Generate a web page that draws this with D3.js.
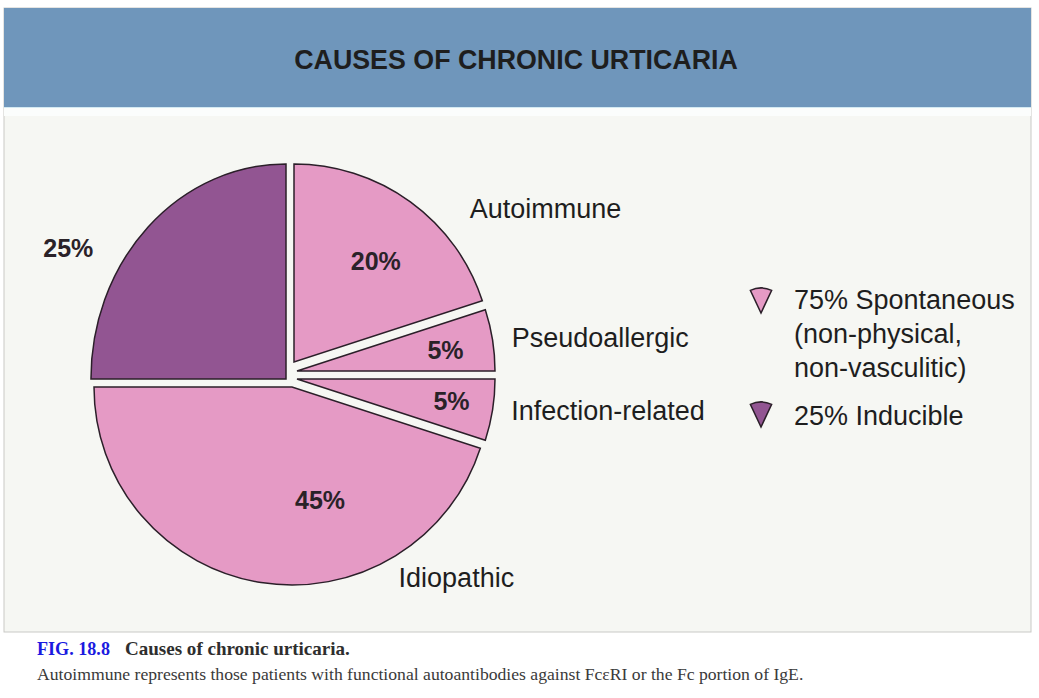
<!DOCTYPE html>
<html lang="en">
<head>
<meta charset="UTF-8">
<title>Causes of Chronic Urticaria</title>
<script src="https://d3js.org/d3.v7.min.js"></script>
<style>
    body { margin: 0; padding: 0; background: #ffffff; }
    svg { display: block; font-family: 'Liberation Sans', Arial, sans-serif; }
    .title { font-size: 26.8px; font-weight: bold; fill: #1e1e1e; text-anchor: middle; }
    .pct { font-size: 25px; font-weight: bold; fill: #2a2228; text-anchor: middle; }
    .name { font-size: 27px; fill: #1e1e1e; }
    .legend { font-size: 27px; fill: #1e1e1e; }
    .cap { font-family: 'Liberation Serif', 'Times New Roman', serif; }
</style>
</head>
<body>
<svg width="1039" height="698"></svg>
<script>
// chart values
const causes = ["Autoimmune", "Pseudoallergic", "Infection-related", "Idiopathic", "Inducible"];
const shares = [20, 5, 5, 45, 25];
const groups = ["Spontaneous", "Spontaneous", "Spontaneous", "Spontaneous", "Inducible"];
const legendLines = [["75% Spontaneous", "(non-physical,", "non-vasculitic)"], ["25% Inducible"]];
const legendGroups = ["Spontaneous", "Inducible"];

const svg = d3.select("svg");
const pink = "#e59ac5", purple = "#925592", edge = "#2b1f29";
const colour = d3.scaleOrdinal().domain(["Spontaneous", "Inducible"]).range([pink, purple]);

// background panels
svg.append("rect").attr("x", 4).attr("y", 8).attr("width", 1027).attr("height", 624)
    .attr("fill", "#f6f7f3").attr("stroke", "#c9c9c6").attr("stroke-width", 1);
svg.append("rect").attr("x", 4).attr("y", 107).attr("width", 1027).attr("height", 9)
    .attr("fill", "#fbfdfc");
svg.append("rect").attr("x", 4).attr("y", 8).attr("width", 1027).attr("height", 99)
    .attr("fill", "#6f96bb");
svg.append("line").attr("x1", 4).attr("x2", 1031).attr("y1", 107.5).attr("y2", 107.5)
    .attr("stroke", "#d3e9f2").attr("stroke-width", 1);

svg.append("text").attr("class", "title").attr("x", 516).attr("y", 69)
    .text("CAUSES OF CHRONIC URTICARIA");

// pie
const cx = 292, cy = 375, r = 198;
const pie = d3.pie().sort(null).value(d => d)(shares);
const arc = d3.arc().innerRadius(0).outerRadius(r);

// exploded offsets, label polar spots (angle in degrees clockwise from top)
const layout = [
    { dx: 2,  dy: -13, sx: 1,     sy: 1,     pa: 39,  pr: 130, na: 50.7, nr: 227 },
    { dx: 5,  dy: -4,  sx: 1,     sy: 1,     pa: 82,  pr: 150, na: 83.6, nr: 216 },
    { dx: 5,  dy: 4,   sx: 1,     sy: 1,     pa: 98,  pr: 156, na: 100.8, nr: 218 },
    { dx: 0,  dy: 12,  sx: 1,     sy: 1,     pa: 166, pr: 116, na: 152, nr: 227 },
    { dx: -6, dy: 4,   sx: 0.985, sy: 1.086, pa: 301, pr: 254, na: 0,   nr: 0 }
];

function polar(a, rad) {
    const t = a * Math.PI / 180;
    return [Math.sin(t) * rad, -Math.cos(t) * rad];
}

const slices = svg.append("g").selectAll("g")
    .data(pie)
    .enter()
    .append("g")
    .attr("transform", (d, i) => `translate(${cx + layout[i].dx},${cy + layout[i].dy})`);

slices.append("path")
    .attr("d", arc)
    .attr("transform", (d, i) => `scale(${layout[i].sx},${layout[i].sy})`)
    .attr("fill", (d, i) => colour(groups[i]))
    .attr("stroke", edge)
    .attr("stroke-width", 1.5)
    .attr("vector-effect", "non-scaling-stroke");

slices.append("text")
    .attr("class", "pct")
    .attr("x", (d, i) => polar(layout[i].pa, layout[i].pr)[0])
    .attr("y", (d, i) => polar(layout[i].pa, layout[i].pr)[1])
    .attr("dy", "0.36em")
    .text(d => d.data + "%");

slices.filter((d, i) => layout[i].nr > 0)
    .append("text")
    .attr("class", "name")
    .attr("x", (d, i) => polar(layout[i].na, layout[i].nr)[0])
    .attr("y", (d, i) => polar(layout[i].na, layout[i].nr)[1])
    .text((d, i) => causes[i]);

// legend
const wedge = d3.arc().innerRadius(0).outerRadius(25).startAngle(-0.44).endAngle(0.44);
const legendTop = [313, 427];
const legendText = [309, 425];
legendGroups.forEach(function(g, i) {
    svg.append("path")
        .attr("d", wedge())
        .attr("transform", `translate(761,${legendTop[i]})`)
        .attr("fill", colour(g))
        .attr("stroke", edge)
        .attr("stroke-width", 1.5);
    legendLines[i].forEach(function(line, j) {
        svg.append("text")
            .attr("class", "legend")
            .attr("x", 794)
            .attr("y", legendText[i] + j * 34)
            .text(line);
    });
});

// caption, font size fitted to the printed width
function fit(sel, width) {
    const base = 14;
    sel.attr("font-size", base);
    const w = sel.node().getComputedTextLength();
    sel.attr("font-size", base * width / w);
    return sel;
}

fit(svg.append("text").attr("class", "cap").attr("x", 37).attr("y", 655)
    .attr("font-weight", "bold").attr("fill", "#1a1ae0").text("FIG. 18.8"), 73);
fit(svg.append("text").attr("class", "cap").attr("x", 125).attr("y", 655)
    .attr("font-weight", "bold").attr("fill", "#2e2e2e").text("Causes of chronic urticaria."), 225);
fit(svg.append("text").attr("class", "cap").attr("x", 37).attr("y", 680)
    .attr("fill", "#3a3a3a")
    .text("Autoimmune represents those patients with functional autoantibodies against Fc\u03b5RI or the Fc portion of IgE."), 767);
</script>
</body>
</html>
